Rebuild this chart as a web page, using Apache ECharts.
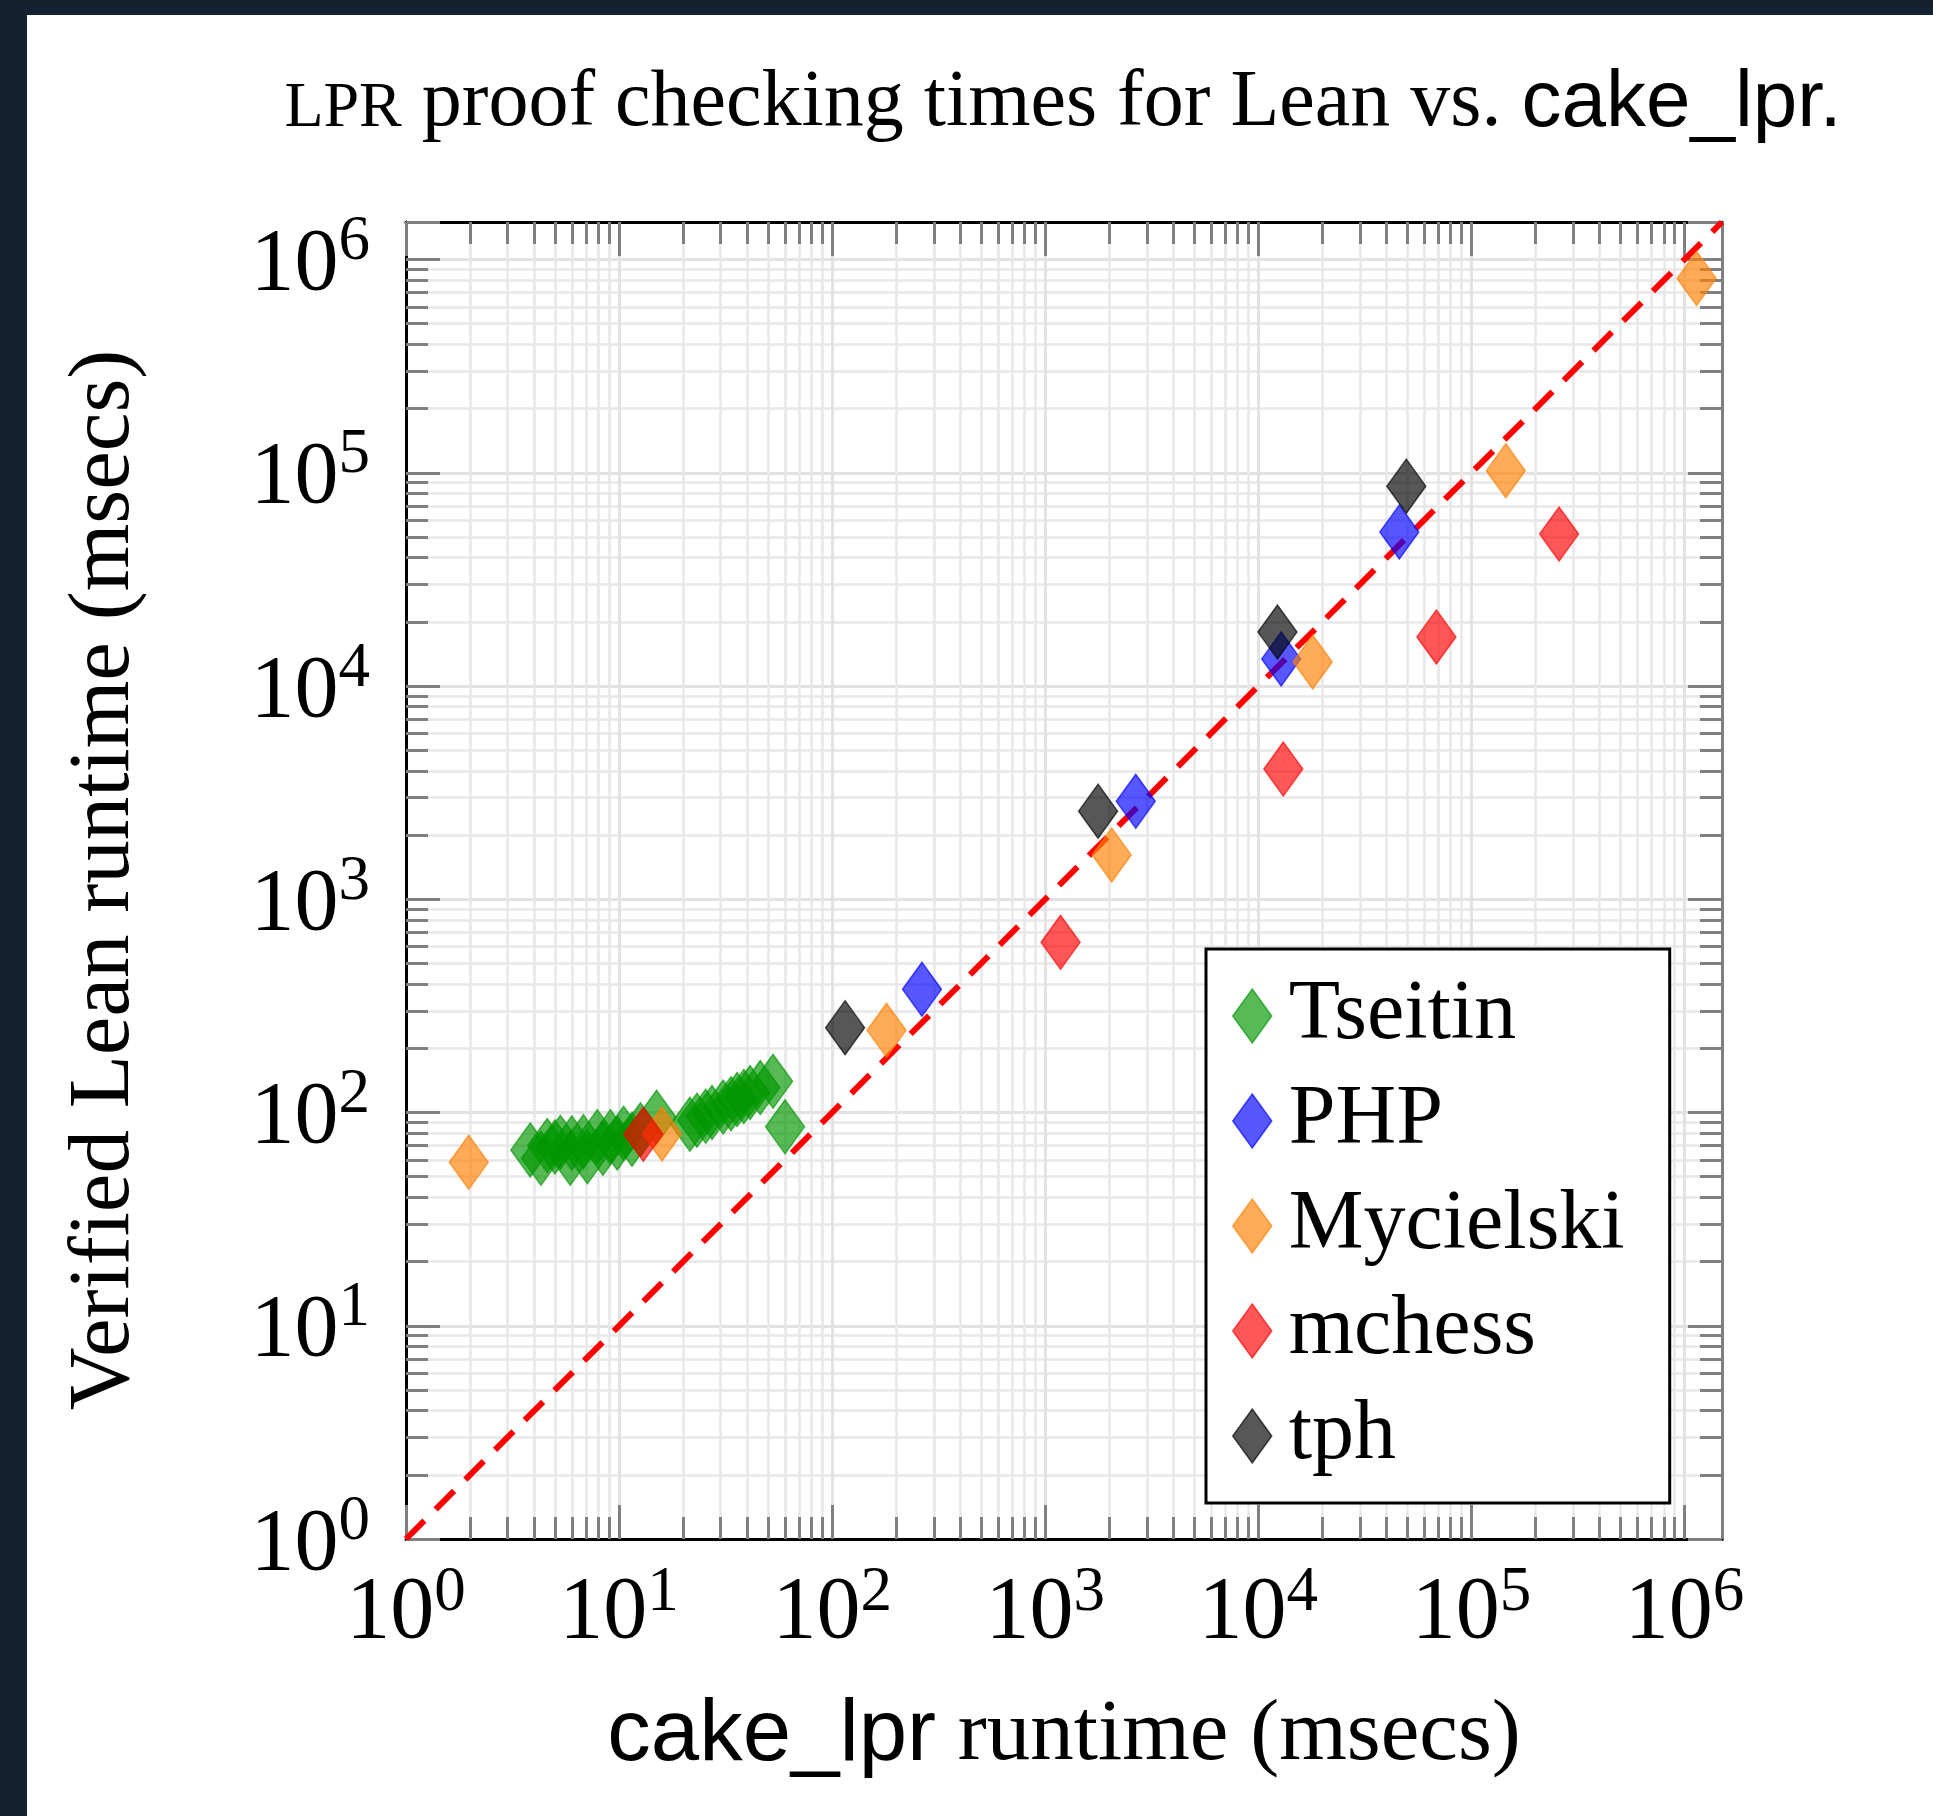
<!DOCTYPE html>
<html><head><meta charset="utf-8">
<script src="https://cdn.jsdelivr.net/npm/echarts@6/dist/echarts.min.js"></script>
<style>
html,body{margin:0;padding:0;background:#142130;width:1933px;height:1816px;overflow:hidden}
#panel{position:absolute;left:27px;top:15px;width:1906px;height:1801px;background:#fff}
#chart{position:absolute;left:0;top:0;width:1933px;height:1816px}
</style></head><body>
<div id="panel"></div><div id="chart"></div>
<script>
// ---- data (x = cake_lpr runtime, y = verified Lean runtime, msecs) ----
const seriesNames = ['Tseitin', 'PHP', 'Mycielski', 'mchess', 'tph'];
const seriesColors = ['#009600', '#0000ff', '#ff8000', '#ff0000', '#000000'];
const tseitin = [
  [3.83, 66.8], [4.3, 61], [4.6, 70], [5.0, 69], [5.3, 72.5], [5.9, 61], [6.0, 72],
  [6.8, 73], [7.1, 62], [7.9, 77], [8.4, 68], [9.1, 77], [9.8, 72], [10.5, 80],
  [11.5, 75], [12.6, 83], [15.0, 95], [21.5, 88], [23.2, 92], [25.5, 96], [27.3, 100],
  [30.8, 106], [33.5, 110], [35.8, 115], [38.5, 119], [41.2, 124], [46, 131],
  [52.8, 140], [60.1, 85.7]
];
const php = [[264, 378], [2660, 2880], [12800, 13400], [45900, 52800]];
const mycielski = [[1.97, 58.4], [15.9, 79.4], [180, 243], [2050, 1615], [18000, 12970], [145000, 102300], [1140000, 816000]];
const mchess = [[13, 79], [1180, 628], [13100, 4080], [68500, 17000], [258000, 51600]];
const tph = [[115, 250], [1770, 2590], [12300, 17900], [49500, 86500]];
const tickExponents = [0, 1, 2, 3, 4, 5, 6];
const tickBase = '10';
const axisMin = 1, axisMax = 1.5e6;
const titleText = '{sc|LPR} proof checking times for Lean vs. {sans|cake_lpr.}';
const xName = '{sans|cake_lpr} runtime (msecs)';
const yName = 'Verified Lean runtime (msecs)';

const serif = '"Liberation Serif", "DejaVu Serif", serif';
const sans = '"Liberation Sans", Arial, sans-serif';
const allData = [tseitin, php, mycielski, mchess, tph];
const markOpacity = 0.66;
const tickCol = '#808080';
const baseFont = 88, supFont = 63;
const baseW = 88, supW = 31.5;   // rendered widths of "10" and the exponent digit

function mkAxis(isX, main) {
  return {
    type: 'log', logBase: 10, min: axisMin, max: axisMax, gridIndex: 0,
    position: isX ? (main ? 'bottom' : 'top') : (main ? 'left' : 'right'),
    axisLine: {show: true, onZero: false, lineStyle: {color: (!isX && !main) ? '#808080' : '#000', width: 3}},
    axisTick: {show: true, inside: true, length: 34, lineStyle: {color: tickCol, width: 3}},
    minorTick: {show: true, splitNumber: 9, length: 22, lineStyle: {color: tickCol, width: 3}},
    splitLine: {show: main, lineStyle: {color: '#e2e2e2', width: 3}},
    minorSplitLine: {show: main, lineStyle: {color: '#e8e8e8', width: 2.5}},
    axisLabel: {show: false}
  };
}

function powerLabel(cx, cy, n, isX) {
  // cx, cy: pixel position of the tick on the axis line
  let bx, by, sx, sy;
  if (isX) {
    bx = cx - supW / 2; by = cy + 75;
    sx = cx + baseW / 2; sy = cy + 54;
  } else {
    const right = cx - 36;
    sx = right - supW / 2; bx = right - supW - baseW / 2;
    by = cy + 6.5; sy = cy - 17;
  }
  return {type: 'group', children: [
    {type: 'text', x: bx, y: by, style: {text: tickBase, fontFamily: serif, fontSize: baseFont, fill: '#000', align: 'center', verticalAlign: 'middle'}},
    {type: 'text', x: sx, y: sy, style: {text: String(n), fontFamily: serif, fontSize: supFont, fill: '#000', align: 'center', verticalAlign: 'middle'}}
  ]};
}

const series = [{
  type: 'line', data: [[axisMin, axisMin], [axisMax, axisMax]], symbol: 'none', silent: true,
  lineStyle: {color: '#ff0000', width: 6, type: [26, 16]}, z: 1
}];
seriesNames.forEach((n, i) => {
  series.push({
    name: n, type: 'scatter', data: allData[i], symbol: 'diamond', symbolSize: [39, 54],
    itemStyle: {color: seriesColors[i], opacity: markOpacity, borderColor: seriesColors[i], borderWidth: 1.5},
    z: 2
  });
});
// tick labels 10^n, placed through the axes' own scales
series.push({
  type: 'custom', silent: true, clip: false, z: 5,
  data: tickExponents.map(n => [Math.pow(10, n), axisMin, n]),
  renderItem: (params, api) => {
    const p = api.coord([api.value(0), api.value(1)]);
    return powerLabel(p[0], p[1], api.value(2), true);
  }
});
series.push({
  type: 'custom', silent: true, clip: false, z: 5,
  data: tickExponents.map(n => [axisMin, Math.pow(10, n), n]),
  renderItem: (params, api) => {
    const p = api.coord([api.value(0), api.value(1)]);
    return powerLabel(p[0], p[1], api.value(2), false);
  }
});

const chart = echarts.init(document.getElementById('chart'), null, {renderer: 'canvas'});
chart.setOption({
  animation: false,
  backgroundColor: 'transparent',
  grid: {left: 406, top: 222, width: 1316, height: 1317, containLabel: false, outerBoundsMode: 'none'},
  xAxis: [mkAxis(true, true), mkAxis(true, false)],
  yAxis: [mkAxis(false, true), mkAxis(false, false)],
  legend: {
    orient: 'vertical', left: 1206, top: 949, padding: [25, 45, 25, 26],
    itemWidth: 39, itemHeight: 54, itemGap: 21, icon: 'diamond', selectedMode: false,
    backgroundColor: '#fff', borderColor: '#000', borderWidth: 3, borderRadius: 0,
    textStyle: {fontFamily: serif, fontSize: 84, lineHeight: 80, color: '#000', padding: [0, 0, 0, 12]},
    data: seriesNames.map((n, i) => ({name: n, itemStyle: {color: seriesColors[i], opacity: markOpacity, borderColor: seriesColors[i], borderWidth: 1.5}}))
  },
  graphic: [
    {type: 'text', x: 1063, y: 104, silent: true, style: {
      text: titleText, fontFamily: serif, fontSize: 80, lineHeight: 100, fill: '#000',
      align: 'center', verticalAlign: 'middle',
      rich: {sc: {fontFamily: serif, fontSize: 64, lineHeight: 80, verticalAlign: 'middle', padding: [11, 0, 0, 0]},
             sans: {fontFamily: sans, fontSize: 80, lineHeight: 100}}
    }},
    {type: 'text', x: 1064, y: 1736, silent: true, style: {
      text: xName, fontFamily: serif, fontSize: 87, lineHeight: 100, fill: '#000',
      align: 'center', verticalAlign: 'middle',
      rich: {sans: {fontFamily: sans, fontSize: 87, lineHeight: 100}}
    }},
    {type: 'text', x: 105, y: 880, rotation: Math.PI / 2, silent: true, style: {
      text: yName, fontFamily: serif, fontSize: 87, fill: '#000', align: 'center', verticalAlign: 'middle'
    }}
  ],
  series: series
});
</script></body></html>
